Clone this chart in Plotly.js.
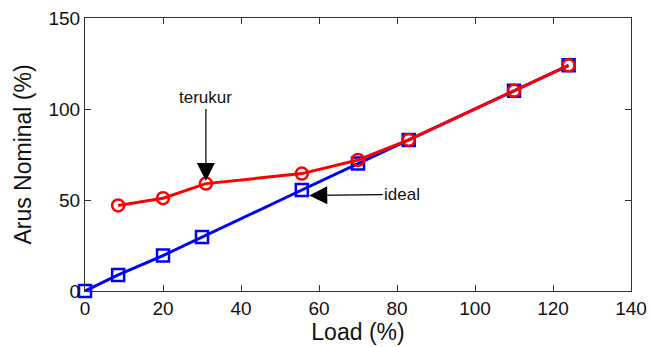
<!DOCTYPE html>
<html><head><meta charset="utf-8">
<script src="https://cdn.plot.ly/plotly-3.0.1.min.js"></script>
<style>body{margin:0;background:#fff}#c{width:651px;height:347px}</style>
</head><body><div id="c"></div>
<script>
const idealLoad = [0, 8.5, 20, 30, 55.6, 70, 83, 110, 124];
const idealArus = [0, 8.8, 19.5, 29.7, 55.5, 70, 83, 110, 124];
const terukurLoad = [8.5, 20, 31, 55.6, 70, 83, 110, 124];
const terukurArus = [47, 51, 59, 64.5, 72, 83, 110, 124];
const xTicks = [0, 20, 40, 60, 80, 100, 120, 140];
const yTicks = [0, 50, 100, 150];

const FONT = 'Liberation Sans, Arial, sans-serif';
const traces = [
  {x: idealLoad, y: idealArus, mode: 'lines+markers', name: 'ideal', cliponaxis: false,
   line: {color: '#0000ff', width: 3},
   marker: {symbol: 'square-open', size: 12, color: '#0000ff', line: {width: 2.5}}},
  {x: terukurLoad, y: terukurArus, mode: 'lines+markers', name: 'terukur', cliponaxis: false,
   line: {color: '#ff0000', width: 3},
   marker: {symbol: 'circle-open', size: 12, color: '#ff0000', line: {width: 2.5}}}
];

const axisCommon = {
  showgrid: false, zeroline: false, showline: true, mirror: 'ticks',
  linecolor: '#333', linewidth: 1, ticks: 'inside', ticklen: 6, tickcolor: '#333',
  tickfont: {family: FONT, size: 19, color: '#111'}
};

const layout = {
  width: 651, height: 347,
  margin: {l: 85, r: 20, t: 18, b: 56},
  paper_bgcolor: '#fff', plot_bgcolor: '#fff',
  showlegend: false,
  xaxis: Object.assign({}, axisCommon, {
    range: [0, 140], tickvals: xTicks,
    title: {text: 'Load (%)', font: {family: FONT, size: 23, color: '#111'}, standoff: 0}
  }),
  yaxis: Object.assign({}, axisCommon, {
    range: [0, 150], tickvals: yTicks,
    title: {text: 'Arus Nominal (%)', font: {family: FONT, size: 23, color: '#111'}, standoff: 10}
  }),
  annotations: [
    {x: 31, y: 60.5, xref: 'x', yref: 'y', text: 'terukur', showarrow: true,
     ax: 0, ay: -83, arrowhead: 2, arrowsize: 3, arrowwidth: 1.2, arrowcolor: '#000',
     font: {family: FONT, size: 17, color: '#111'}},
    {x: 57.5, y: 52.5, xref: 'x', yref: 'y', text: 'ideal', showarrow: true,
     ax: 93, ay: -1, arrowhead: 2, arrowsize: 3, arrowwidth: 1.2, arrowcolor: '#000',
     font: {family: FONT, size: 17, color: '#111'}}
  ]
};
Plotly.newPlot('c', traces, layout, {displayModeBar: false, staticPlot: true});
</script></body></html>
